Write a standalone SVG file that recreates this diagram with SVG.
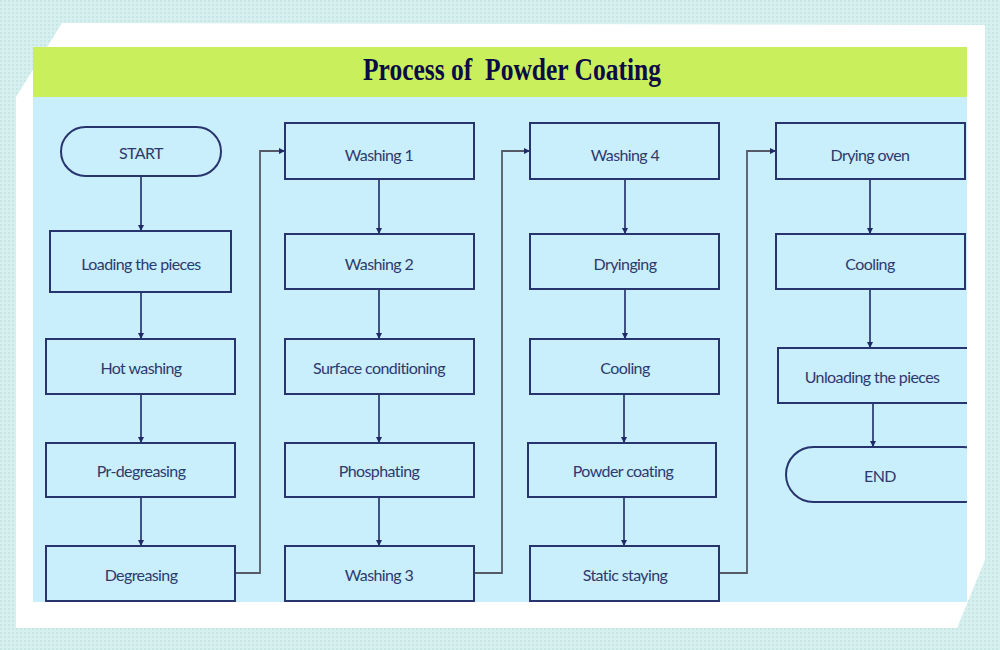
<svg xmlns="http://www.w3.org/2000/svg" width="1000" height="650" viewBox="0 0 1000 650">
<defs>
<style>
.box{fill:#c9eefc;stroke:#27346e;stroke-width:2}
.lbl{font-family:Lato,"Open Sans",sans-serif;font-size:16px;fill:#2e3a6e;text-anchor:middle;dominant-baseline:central;letter-spacing:-0.6px}
.v{stroke:#1f2a66;stroke-width:1.6;fill:none;marker-end:url(#ah)}
.loop{stroke:#555a66;stroke-width:1.8;fill:none;marker-end:url(#ah)}
</style>
<marker id="ah" viewBox="0 0 10 10" refX="10" refY="5" markerWidth="6" markerHeight="6" markerUnits="userSpaceOnUse" orient="auto"><path d="M0,0 L10,5 L0,10 z" fill="#1f2a66"/></marker>
<pattern id="dots" width="4" height="4" patternUnits="userSpaceOnUse"><rect width="4" height="4" fill="#d6efef"/><rect width="2" height="2" fill="#c8e6e6"/></pattern>
<clipPath id="panel"><rect x="33" y="97" width="934" height="505"/></clipPath>
</defs>
<rect width="1000" height="650" fill="url(#dots)"/>
<polygon points="62,23 985,25 985,560 957,628 16,628 16,97" fill="#ffffff"/>
<rect x="33" y="47" width="934" height="50" fill="#c9ef5c"/>
<rect x="33" y="97" width="934" height="505" fill="#c9eefc"/>
<text x="512" y="80" font-family="Liberation Serif,serif" font-weight="bold" font-size="32" fill="#0b0b45" text-anchor="middle" textLength="298" lengthAdjust="spacingAndGlyphs">Process of&#160; Powder Coating</text>
<g id="connectors">
<line class="v" x1="141" y1="176" x2="141" y2="231"/>
<line class="v" x1="141" y1="292" x2="141" y2="339"/>
<line class="v" x1="141" y1="394" x2="141" y2="443"/>
<line class="v" x1="141" y1="497" x2="141" y2="546"/>
<polyline class="loop" points="235,573 260,573 260,151 285,151"/>
<line class="v" x1="379" y1="179" x2="379" y2="234"/>
<line class="v" x1="379" y1="289" x2="379" y2="339"/>
<line class="v" x1="379" y1="394" x2="379" y2="443"/>
<line class="v" x1="379" y1="497" x2="379" y2="546"/>
<polyline class="loop" points="474,573 502,573 502,151 530,151"/>
<line class="v" x1="625" y1="179" x2="625" y2="234"/>
<line class="v" x1="625" y1="289" x2="625" y2="339"/>
<line class="v" x1="624" y1="394" x2="624" y2="443"/>
<line class="v" x1="624" y1="497" x2="624" y2="546"/>
<polyline class="loop" points="719,573 747,573 747,151 776,151"/>
<line class="v" x1="870" y1="179" x2="870" y2="234"/>
<line class="v" x1="870" y1="289" x2="870" y2="348"/>
<line class="v" x1="873" y1="403" x2="873" y2="447"/>
</g>
<g id="start"><rect class="box" x="61" y="127" width="160" height="49" rx="24.5"/><text class="lbl" x="141" y="152">START</text></g>
<g id="loading"><rect class="box" x="50" y="231" width="181" height="61"/><text class="lbl" x="141" y="263">Loading the pieces</text></g>
<g id="hotwashing"><rect class="box" x="46" y="339" width="189" height="55"/><text class="lbl" x="141" y="367">Hot washing</text></g>
<g id="prdegreasing"><rect class="box" x="46" y="443" width="189" height="54"/><text class="lbl" x="141" y="470">Pr-degreasing</text></g>
<g id="degreasing"><rect class="box" x="46" y="546" width="189" height="55"/><text class="lbl" x="141" y="574">Degreasing</text></g>
<g id="washing1"><rect class="box" x="285" y="123" width="189" height="56"/><text class="lbl" x="379" y="154">Washing 1</text></g>
<g id="washing2"><rect class="box" x="285" y="234" width="189" height="55"/><text class="lbl" x="379" y="263">Washing 2</text></g>
<g id="surface"><rect class="box" x="285" y="339" width="189" height="55"/><text class="lbl" x="379" y="367">Surface conditioning</text></g>
<g id="phosphating"><rect class="box" x="285" y="443" width="189" height="54"/><text class="lbl" x="379" y="470">Phosphating</text></g>
<g id="washing3"><rect class="box" x="285" y="546" width="189" height="55"/><text class="lbl" x="379" y="574">Washing 3</text></g>
<g id="washing4"><rect class="box" x="530" y="123" width="189" height="56"/><text class="lbl" x="625" y="154">Washing 4</text></g>
<g id="dryinging"><rect class="box" x="530" y="234" width="189" height="55"/><text class="lbl" x="625" y="263">Dryinging</text></g>
<g id="cooling1"><rect class="box" x="530" y="339" width="189" height="55"/><text class="lbl" x="625" y="367">Cooling</text></g>
<g id="powdercoating"><rect class="box" x="528" y="443" width="188" height="54"/><text class="lbl" x="623" y="470">Powder coating</text></g>
<g id="static"><rect class="box" x="530" y="546" width="189" height="55"/><text class="lbl" x="625" y="574">Static staying</text></g>
<g clip-path="url(#panel)">
<g id="dryingoven"><rect class="box" x="776" y="123" width="189" height="56"/><text class="lbl" x="870" y="154">Drying oven</text></g>
<g id="cooling2"><rect class="box" x="776" y="234" width="189" height="55"/><text class="lbl" x="870" y="263">Cooling</text></g>
<g id="unloading"><rect class="box" x="778" y="348" width="200" height="55"/><text class="lbl" x="872" y="376">Unloading the pieces</text></g>
<g id="end"><rect class="box" x="786" y="447" width="204" height="55" rx="27.5"/><text class="lbl" x="880" y="475">END</text></g>
</g>
</svg>
